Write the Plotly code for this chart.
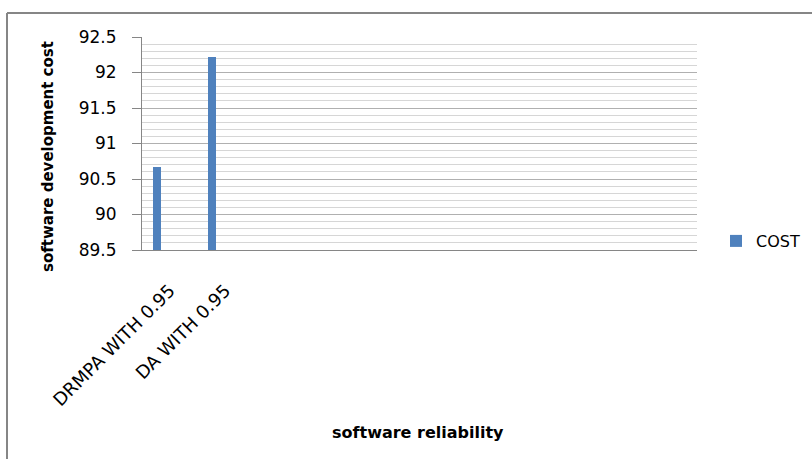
import plotly.graph_objects as go

# Chart data
categories = ["DRMPA WITH 0.95", "DA WITH 0.95"]
cost_values = [90.67, 92.22]
series_name = "COST"
y_ticks = [89.5, 90, 90.5, 91, 91.5, 92, 92.5]

n_slots = 10  # the category axis reserves ten slots
positions = list(range(len(categories)))

BAR_COLOR = "#4F81BD"
AXIS_GRAY = "#868686"
FONT = "DejaVu Sans"

fig = go.Figure()
fig.add_trace(go.Bar(
    x=positions,
    y=cost_values,
    name=series_name,
    marker=dict(color=BAR_COLOR, line=dict(width=0)),
    width=0.144,
    offset=-0.307,
    showlegend=True,
))

# Geometry in pixels: the paper spans L..PR, the plot area L..R
W, H = 812, 459
L, R, T, B = 142, 697, 37, 250
PR = 807
pw, ph = PR - L, B - T


def px_x(x):
    return (x - L) / pw


def px_y(y):
    return (B - y) / ph


fig.update_layout(
    width=W,
    height=H,
    margin=dict(l=L, r=W - PR, t=T, b=H - B, pad=0, autoexpand=False),
    paper_bgcolor="white",
    plot_bgcolor="white",
    font=dict(family=FONT, size=15, color="#000000"),
    bargap=0,
    showlegend=True,
    legend=dict(
        x=px_x(716), y=px_y(241), xanchor="left", yanchor="middle",
        font=dict(family=FONT, size=16, color="#000000"),
        bgcolor="rgba(0,0,0,0)", itemwidth=30,
    ),
    xaxis=dict(
        domain=[0, px_x(R)],
        range=[-0.5, n_slots - 0.5],
        tickmode="array",
        tickvals=positions,
        ticktext=categories,
        tickangle=-45,
        ticks="",
        ticklabelstandoff=22,
        showgrid=False,
        zeroline=False,
        showline=True,
        linecolor=AXIS_GRAY,
        linewidth=1,
        tickfont=dict(family=FONT, size=18, color="#000000"),
        fixedrange=True,
    ),
    yaxis=dict(
        range=[89.5, 92.5],
        tickmode="array",
        tickvals=y_ticks,
        ticktext=[f"{v:g}" for v in y_ticks],
        ticks="outside",
        ticklen=9,
        tickcolor=AXIS_GRAY,
        tickwidth=1,
        ticklabelstandoff=12,
        showgrid=True,
        gridcolor="#b0b0b0",
        gridwidth=1,
        minor=dict(dtick=0.1, tick0=89.5, showgrid=True,
                   gridcolor="#d6d6d6", gridwidth=1, ticks=""),
        zeroline=False,
        showline=True,
        linecolor=AXIS_GRAY,
        linewidth=1,
        tickfont=dict(family=FONT, size=17, color="#000000"),
        fixedrange=True,
    ),
    annotations=[
        dict(text="<b>software development cost</b>", xref="paper", yref="paper",
             x=px_x(48), y=px_y(157), textangle=-90, showarrow=False,
             xanchor="center", yanchor="middle",
             font=dict(family=FONT, size=15, color="#000000")),
        dict(text="<b>software reliability</b>", xref="paper", yref="paper",
             x=px_x(418), y=px_y(432), showarrow=False,
             xanchor="center", yanchor="middle",
             font=dict(family=FONT, size=16, color="#000000")),
    ],
    shapes=[
        # chart border (top and left edges)
        dict(type="line", xref="paper", yref="paper",
             x0=px_x(7), x1=px_x(820), y0=px_y(13), y1=px_y(13),
             line=dict(color=AXIS_GRAY, width=2)),
        dict(type="line", xref="paper", yref="paper",
             x0=px_x(7), x1=px_x(7), y0=px_y(13), y1=px_y(470),
             line=dict(color=AXIS_GRAY, width=2)),
    ],
)

fig.write_html("out.html")
